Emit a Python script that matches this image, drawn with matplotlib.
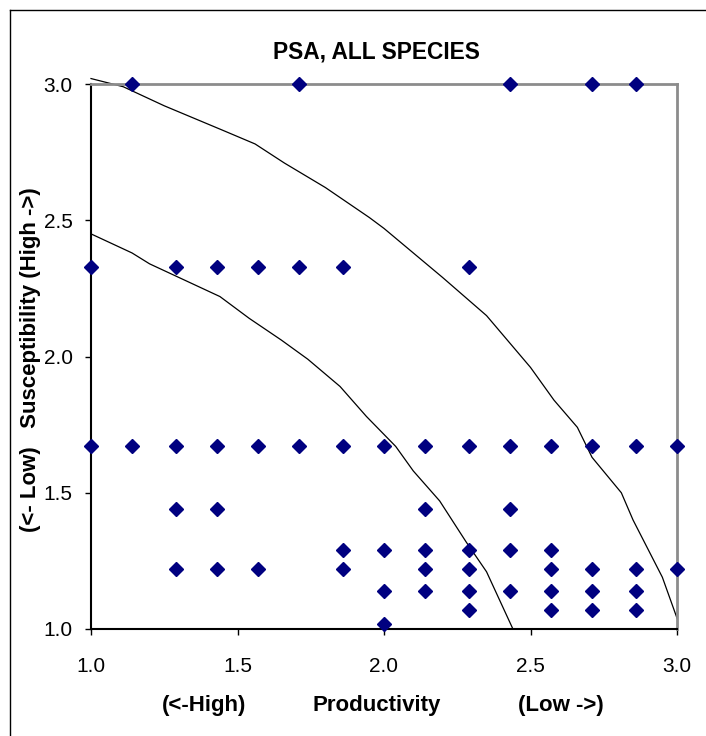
import matplotlib
matplotlib.use("Agg")
import matplotlib.pyplot as plt
from matplotlib import font_manager
from matplotlib.lines import Line2D

# ---- data ------------------------------------------------------------------
# productivity / susceptibility scores of each species, grouped by row
prod_s300 = [1.14, 1.71, 2.43, 2.71, 2.86]
prod_s233 = [1.00, 1.29, 1.43, 1.57, 1.71, 1.86, 2.29]
prod_s167 = [1.00, 1.14, 1.29, 1.43, 1.57, 1.71, 1.86, 2.00, 2.14, 2.29,
             2.43, 2.57, 2.71, 2.86, 3.00]
prod_s144 = [1.29, 1.43, 2.14, 2.43]
prod_s129 = [1.86, 2.00, 2.14, 2.29, 2.43, 2.57]
prod_s122 = [1.29, 1.43, 1.57, 1.86, 2.14, 2.29, 2.57, 2.71, 2.86, 3.00]
prod_s114 = [2.00, 2.14, 2.29, 2.43, 2.57, 2.71, 2.86]
prod_s107 = [2.29, 2.57, 2.71, 2.86]
prod_s102 = [2.00]

susc_levels = [3.00, 2.33, 1.67, 1.44, 1.29, 1.22, 1.14, 1.07, 1.02]
prod_rows = [prod_s300, prod_s233, prod_s167, prod_s144, prod_s129,
             prod_s122, prod_s114, prod_s107, prod_s102]

outer_x = [1.00, 1.11, 1.25, 1.45, 1.56, 1.66, 1.80, 1.95, 2.00, 2.20,
           2.35, 2.50, 2.58, 2.66, 2.71, 2.81, 2.85, 2.95, 3.00]
outer_y = [3.02, 2.99, 2.92, 2.83, 2.78, 2.71, 2.62, 2.51, 2.47, 2.29,
           2.15, 1.96, 1.84, 1.74, 1.63, 1.50, 1.40, 1.19, 1.04]
inner_x = [1.00, 1.14, 1.20, 1.30, 1.44, 1.54, 1.65, 1.74, 1.85, 1.94,
           2.04, 2.10, 2.19, 2.28, 2.35, 2.44]
inner_y = [2.45, 2.38, 2.34, 2.29, 2.22, 2.14, 2.06, 1.99, 1.89, 1.78,
           1.67, 1.58, 1.47, 1.32, 1.21, 1.00]

ticks = [1.0, 1.5, 2.0, 2.5, 3.0]

# ---- fonts ------------------------------------------------------------------
names = {f.name for f in font_manager.fontManager.ttflist}
if "Liberation Sans Narrow" in names:
    BOLD_FAMILY, BOLD_SCALE = "Liberation Sans Narrow", 1.0
else:
    BOLD_FAMILY, BOLD_SCALE = "Liberation Sans", 0.82

plt.rcParams["font.family"] = ["Liberation Sans", "DejaVu Sans"]

W, H = 706, 736


def fx(px):
    return px / W


def fy(py):
    return 1 - py / H


fig = plt.figure(figsize=(W / 100, H / 100), dpi=100)
ax = fig.add_axes([fx(91), fy(629), fx(677) - fx(91), fy(84) - fy(629)])

ax.plot(outer_x, outer_y, color="black", lw=0.9, zorder=2, clip_on=False)
ax.plot(inner_x, inner_y, color="black", lw=0.9, zorder=2, clip_on=False)

for s, row in zip(susc_levels, prod_rows):
    ax.plot(row, [s] * len(row), linestyle="none", marker="D", ms=7,
            color="#000080", mec="#000080", zorder=5, clip_on=False)

ax.set_xlim(1.0, 3.0)
ax.set_ylim(1.0, 3.0)
ax.set_xticks(ticks)
ax.set_yticks(ticks)
ax.set_xticklabels([f"{t:.1f}" for t in ticks])
ax.set_yticklabels([f"{t:.1f}" for t in ticks])
ax.tick_params(axis="both", direction="out", length=4.3, width=1,
               labelsize=15, color="black")
ax.tick_params(axis="x", pad=16)
ax.tick_params(axis="y", pad=9)

for side in ("left", "bottom"):
    ax.spines[side].set_color("black")
    ax.spines[side].set_linewidth(1.5)
for side in ("top", "right"):
    ax.spines[side].set_color("#8c8c8c")
    ax.spines[side].set_linewidth(2)

# titles and axis captions
fig.text(fx(376), fy(52), "PSA, ALL SPECIES", ha="center", va="center",
         fontsize=20 * BOLD_SCALE, fontweight="bold", family=BOLD_FAMILY)
cap = dict(ha="center", va="center", fontsize=19.5 * BOLD_SCALE,
           fontweight="bold", family=BOLD_FAMILY)
fig.text(fx(204), fy(705), "(<-High)", **cap)
fig.text(fx(377), fy(705), "Productivity", **cap)
fig.text(fx(561), fy(705), "(Low ->)", **cap)
fig.text(fx(31), fy(360), "(<- Low)   Susceptibility (High ->)",
         rotation=90, **cap)

# outer chart border (only left and top fall inside the picture)
fig.add_artist(Line2D([fx(10), fx(10)], [0, fy(10)], color="black", lw=1))
fig.add_artist(Line2D([fx(10), 1], [fy(10), fy(10)], color="black", lw=1))

fig.savefig("out.png", dpi=100)
